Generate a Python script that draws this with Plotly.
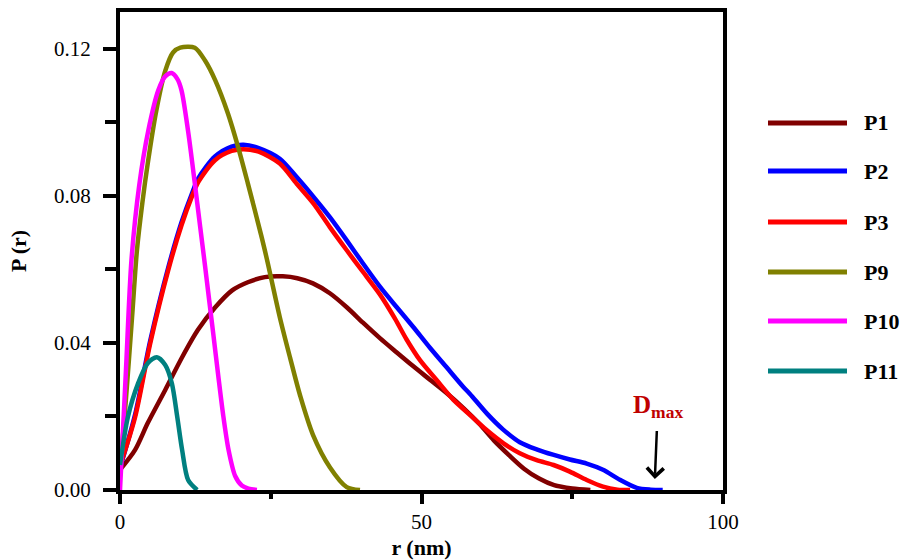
import plotly.graph_objects as go

# ---------------- data ----------------
series_names = ["P1", "P2", "P3", "P9", "P10", "P11"]
series_colors = ["#800000", "#0000FF", "#FF0000", "#808000", "#FF00FF", "#008080"]

p1_r = [0, 2.5, 4.6, 7.5, 10.3, 12.9, 15.8, 18.6, 21.2, 24.0, 27.0, 29.4, 32.0, 34.8, 37.6,
        40.3, 43.1, 45.9, 48.6, 51.4, 54.2, 57.0, 59.7, 62.0, 64.5, 67.0, 69.5, 72.0, 75.0, 78.0]
p1_p = [0.0055, 0.0109, 0.0182, 0.0272, 0.0361, 0.0435, 0.0497, 0.0543, 0.0565, 0.0579, 0.0581,
        0.0576, 0.0562, 0.0535, 0.0497, 0.0455, 0.0413, 0.0374, 0.0337, 0.0300, 0.0263, 0.0222,
        0.0178, 0.0135, 0.0095, 0.0058, 0.0031, 0.0013, 0.0004, 0.0]

p2_r = [0, 2.5, 5.0, 8.0, 10.2, 11.9, 13.0, 15.75, 18.5, 20.5, 23.0, 26.5, 29.3, 32.1, 34.8,
        37.6, 40.3, 43.1, 45.9, 48.6, 51.4, 54.2, 56.9, 58.0, 60.9, 63.5, 66.3, 69.2, 71.8, 74.6,
        77.4, 80.1, 82.9, 85.7, 88.0, 90.0]
p2_p = [0.0060, 0.0205, 0.0405, 0.0605, 0.0728, 0.0805, 0.0848, 0.0907, 0.0934, 0.0939, 0.0930,
        0.0901, 0.0851, 0.0797, 0.0742, 0.0679, 0.0616, 0.0553, 0.0497, 0.0444, 0.0387, 0.0333,
        0.0281, 0.0262, 0.0207, 0.0165, 0.0130, 0.0110, 0.0096, 0.0083, 0.0072, 0.0055, 0.0028,
        0.0006, 0.0001, 0.0]

p3_r = [0, 2.5, 5.0, 8.0, 10.2, 11.9, 13.0, 15.75, 18.5, 20.5, 23.0, 26.5, 29.3, 32.1, 34.8,
        37.6, 40.3, 43.1, 45.6, 47.5, 49.75, 52.5, 55.3, 57.5, 60.8, 63.6, 66.3, 69.1, 71.9, 74.6,
        77.4, 80.1, 82.5, 84.6]
p3_p = [0.0065, 0.0198, 0.0398, 0.0598, 0.0720, 0.0797, 0.0838, 0.0897, 0.0922, 0.0927, 0.0920,
        0.0888, 0.0833, 0.0779, 0.0715, 0.0652, 0.0593, 0.0532, 0.0466, 0.0410, 0.0353, 0.0299,
        0.0245, 0.0212, 0.0163, 0.0127, 0.0100, 0.0081, 0.0068, 0.0050, 0.0027, 0.0009, 0.0001, 0.0]

p9_r = [0, 1.0, 2.0, 2.8, 3.7, 4.6, 6.0, 7.5, 8.8, 10.0, 12.4, 14.1, 15.8, 17.9, 19.6, 21.2,
        23.5, 24.4, 26.5, 28.2, 29.9, 32.0, 34.8, 37.6, 39.8]
p9_p = [0.0050, 0.0250, 0.0470, 0.0650, 0.0780, 0.0888, 0.1030, 0.1140, 0.1190, 0.1203, 0.1203,
        0.1168, 0.1114, 0.1024, 0.0932, 0.0834, 0.0687, 0.0625, 0.0470, 0.0360, 0.0255, 0.0150,
        0.0062, 0.0008, 0.0]

p10_r = [0, 1.0, 1.9, 3.2, 4.7, 6.35, 7.5, 8.57, 9.5, 10.2, 11.3, 12.4, 13.3, 14.1, 14.8, 15.5,
         16.3, 17.1, 18.0, 19.1, 20.2, 21.3, 22.7]
p10_p = [0.0, 0.0330, 0.0625, 0.0830, 0.0978, 0.1087, 0.1125, 0.1134, 0.1118, 0.1087, 0.0975,
         0.0835, 0.0715, 0.0610, 0.0515, 0.0420, 0.0310, 0.0205, 0.0109, 0.0038, 0.0012, 0.0004, 0.0]

p11_r = [0, 1.3, 3.0, 4.6, 6.1, 7.5, 8.6, 9.5, 10.3, 11.3, 12.8]
p11_p = [0.0068, 0.0198, 0.0290, 0.0345, 0.0361, 0.0340, 0.0290, 0.0198, 0.0109, 0.0027, 0.0]

series_r = [p1_r, p2_r, p3_r, p9_r, p10_r, p11_r]
series_p = [p1_p, p2_p, p3_p, p9_p, p10_p, p11_p]

x_tick_vals = [0, 50, 100]
x_tick_text = ["0", "50", "100"]
y_tick_vals = [0.0, 0.04, 0.08, 0.12]
y_tick_text = ["0.00", "0.04", "0.08", "0.12"]

dmax_value = 88.7
x_title = "r (nm)"
y_title = "P (r)"
dmax_label = "D<sub>max</sub>"

# ---------------- layout geometry (pixels) ----------------
W, H = 904, 560
L, R, T, B = 120, 723, 12, 490  # plot area edges in px
Y_MAX = 0.13


def px_x(p):
    return (p - L) / (R - L)


def px_y(p):
    return (B - p) / (B - T)


SERIF = "Liberation Serif, Times New Roman, serif"

fig = go.Figure()
for name, color, rr, pp in zip(series_names, series_colors, series_r, series_p):
    fig.add_trace(go.Scatter(
        x=rr, y=pp, mode="lines", name=name,
        line=dict(color=color, width=4.5, shape="spline", smoothing=0.8),
        showlegend=False,
    ))

# manual legend (long line samples as in the reference)
legend_rows_px = [123, 171, 222, 272, 321, 371]
shapes = []
annotations = []
for name, color, ypx in zip(series_names, series_colors, legend_rows_px):
    shapes.append(dict(type="line", xref="paper", yref="paper",
                       x0=px_x(768), x1=px_x(847), y0=px_y(ypx), y1=px_y(ypx),
                       line=dict(color=color, width=5)))
    annotations.append(dict(xref="paper", yref="paper", x=px_x(862), y=px_y(ypx),
                            xanchor="left", yanchor="middle", showarrow=False,
                            text="<b>%s</b>" % name,
                            font=dict(family=SERIF, size=22, color="black")))

# Dmax label with arrow pointing down to the axis
tip_px = 479
text_px = 406
annotations.append(dict(x=dmax_value, y=(B - tip_px) / (B - T) * Y_MAX, xref="x", yref="y",
                        ax=3, ay=-(tip_px - text_px), axref="pixel", ayref="pixel",
                        showarrow=True, arrowhead=4, arrowsize=1.3, arrowwidth=2.5,
                        arrowcolor="black", startstandoff=8,
                        text="<b>%s</b>" % dmax_label,
                        font=dict(family=SERIF, size=25, color="#C00000")))

axis_common = dict(showline=True, linecolor="black", linewidth=4, mirror=True,
                   showgrid=False, zeroline=False, ticks="outside", tickcolor="black",
                   tickwidth=4, tickfont=dict(family=SERIF, size=21, color="black"))

fig.update_layout(
    width=W, height=H,
    margin=dict(l=L, r=W - R, t=T, b=H - B, autoexpand=False),
    paper_bgcolor="white", plot_bgcolor="white",
    xaxis=dict(range=[0, 100], tickvals=x_tick_vals, ticktext=x_tick_text, ticklen=10,
               minor=dict(dtick=25, ticklen=5, tickwidth=4, tickcolor="black", ticks="outside"),
               title=dict(text="<b>%s</b>" % x_title, standoff=8,
                          font=dict(family=SERIF, size=22, color="black")),
               **axis_common),
    yaxis=dict(range=[0, Y_MAX], tickvals=y_tick_vals, ticktext=y_tick_text, ticklen=13,
               ticklabelstandoff=8,
               minor=dict(dtick=0.02, ticklen=11, tickwidth=4, tickcolor="black", ticks="outside"),
               title=dict(text="<b>%s</b>" % y_title, standoff=22,
                          font=dict(family=SERIF, size=22, color="black")),
               **axis_common),
    shapes=shapes,
    annotations=annotations,
)

fig.write_html("out.html", config={"displayModeBar": False},
               post_script="document.body.style.margin='0px';document.body.style.padding='0px';")
